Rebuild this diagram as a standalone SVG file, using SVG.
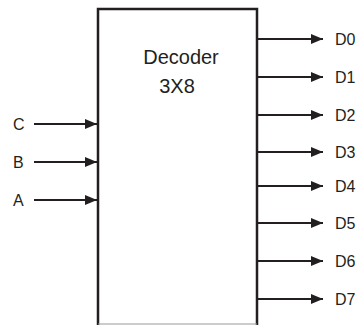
<svg xmlns="http://www.w3.org/2000/svg" width="363" height="326" viewBox="0 0 363 326">
<defs>
<marker id="ah" viewBox="0 0 12 10" refX="12" refY="5" markerWidth="12" markerHeight="10" markerUnits="userSpaceOnUse" orient="auto">
<path d="M0,0 L12,5 L0,10 Z" fill="#231f20"/>
</marker>
<style>
.lbl{font-family:"Liberation Sans",Arial,sans-serif;font-size:16px;fill:#231f20}
.title{font-family:"Liberation Sans",Arial,sans-serif;font-size:20px;fill:#231f20;text-anchor:middle}
.wire{stroke:#231f20;stroke-width:2;fill:none;marker-end:url(#ah)}
</style>
</defs>
<rect width="363" height="326" fill="#fff"/>
<g id="decoder">
<path d="M98,325 V9 H257 V325" fill="none" stroke="#231f20" stroke-width="2.5"/>
<line x1="98" y1="324" x2="257" y2="324" stroke="#999" stroke-width="1"/>
<text class="title" x="181" y="64">Decoder</text>
<text class="title" x="177" y="93">3X8</text>
</g>
<g id="inputs">
<text class="lbl" x="13" y="130">C</text>
<text class="lbl" x="13" y="168">B</text>
<text class="lbl" x="13" y="206">A</text>
</g>
<g id="outputs">
<text class="lbl" x="335" y="45">D0</text>
<text class="lbl" x="335" y="83">D1</text>
<text class="lbl" x="335" y="121">D2</text>
<text class="lbl" x="335" y="158">D3</text>
<text class="lbl" x="335" y="192">D4</text>
<text class="lbl" x="335" y="229">D5</text>
<text class="lbl" x="335" y="267">D6</text>
<text class="lbl" x="335" y="305">D7</text>
</g>
<g id="connectors">
<line class="wire" x1="34" y1="124" x2="97" y2="124"/>
<line class="wire" x1="34" y1="162" x2="97" y2="162"/>
<line class="wire" x1="34" y1="200" x2="97" y2="200"/>
<line class="wire" x1="258" y1="39" x2="323" y2="39"/>
<line class="wire" x1="258" y1="77" x2="323" y2="77"/>
<line class="wire" x1="258" y1="115" x2="323" y2="115"/>
<line class="wire" x1="258" y1="152" x2="323" y2="152"/>
<line class="wire" x1="258" y1="186" x2="323" y2="186"/>
<line class="wire" x1="258" y1="223" x2="323" y2="223"/>
<line class="wire" x1="258" y1="261" x2="323" y2="261"/>
<line class="wire" x1="258" y1="299" x2="323" y2="299"/>
</g>
</svg>
